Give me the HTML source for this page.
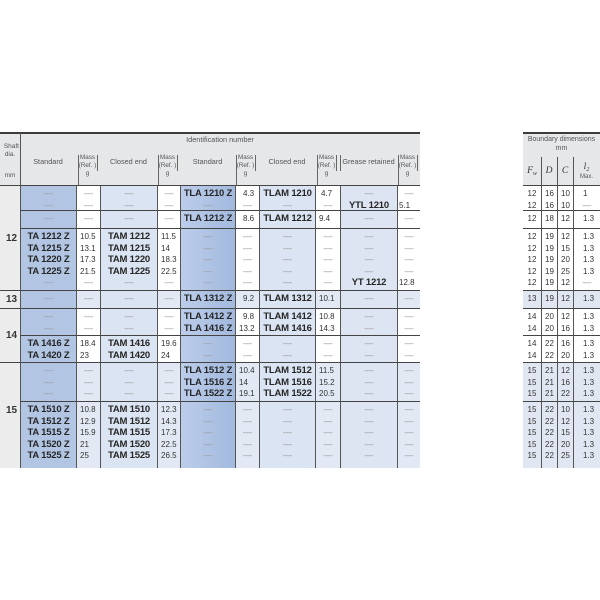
<!DOCTYPE html>
<html><head><meta charset="utf-8">
<style>
*{margin:0;padding:0;box-sizing:border-box}
html,body{width:600px;height:600px;background:#fff;overflow:hidden}
body{position:relative;font-family:"Liberation Sans",Arial,sans-serif;color:#333}
.a{position:absolute}
.bg{background:#e6e7e9}
.ln{background:#3c3c3c}
.vl{background:#666;width:1px}
.ht{position:absolute;font-size:7.3px;color:#555;white-space:nowrap;line-height:8px;text-align:center}
.mh{font-size:6.3px;line-height:7.8px;color:#555}
.grid{position:absolute;display:grid}
#mb{left:0;top:185px;width:420px;grid-template-columns:20px 56px 24px 57px 23px 55px 24px 56px 25px 57px 23px;grid-template-rows:25px 18px 62px 18px 27px 27px 39px 67px}
#bb{left:523px;top:185px;width:77px;grid-template-columns:18px 16px 16px 27px;grid-template-rows:25px 18px 62px 18px 27px 27px 39px 67px}
.grid>div{border-top:1.5px solid #444;border-left:1px solid #555;padding-top:2px;overflow:hidden;white-space:nowrap}
.grid b,.grid i,.grid u{display:block;height:11.6px;line-height:11.6px;font-style:normal;text-decoration:none}
.grid b{font-weight:bold;font-size:9.5px;letter-spacing:-0.2px;text-align:center;color:#262626}
.grid i{font-size:9px;color:#9a9a9a;text-align:center}
.grid u{font-size:8px;padding-left:3px;color:#333}
.grid u.p{padding-left:7px}
.grid u.q{padding-left:5px}
.grid u.r{padding-left:1px}
.sh{background:#ececec;border-left:none!important;display:flex;align-items:center;padding:0 0 0 6px!important;font-weight:bold;font-size:10px;color:#333}
.s1{background:#b2c6e4}
.s2{background:linear-gradient(90deg,#bccdea,#a2b9de)}
.ce{background:#dbe4f2}
.gr{background:#dde5f2}
.m{background:#fff}
.mz{background:#e3e9f4}
#bb>div{text-align:center}
#bb>div:first-child,#bb .f{border-left:none}
#bb u{padding-left:0;text-align:center}
#bb .l u{text-align:left;padding-left:9px}
.w{background:#fff}
.z{background:#e1e7f2}
.sv{font-family:"Liberation Serif",serif;font-style:italic;font-size:9.5px;color:#333}
.sv sub{font-size:6px;vertical-align:-2px}
</style></head><body>

<!-- main header -->
<div class="a bg" style="left:0;top:133px;width:420px;height:52px"></div>
<div class="a ln" style="left:0;top:132px;width:420px;height:2px"></div>
<div class="a vl" style="left:20px;top:133px;height:52px;background:#555"></div>
<div class="ht" style="left:20px;width:400px;top:136px">Identification number</div>
<div class="ht" style="left:0;width:19px;top:143px;text-align:right;font-size:6.5px">Shaft</div>
<div class="ht" style="left:0;width:20px;top:151px;font-size:6.5px">dia.</div>
<div class="ht" style="left:0;width:20px;top:172px;font-size:6.5px">mm</div>

<div class="ht" style="left:20px;width:56px;top:158px">Standard</div>
<div class="ht" style="left:100px;width:57px;top:158px">Closed end</div>
<div class="ht" style="left:180px;width:55px;top:158px">Standard</div>
<div class="ht" style="left:259px;width:56px;top:158px">Closed end</div>
<div class="ht" style="left:340px;width:57px;top:158px">Grease retained</div>

<div class="ht mh" style="left:78px;width:19px;top:154px">Mass<br>(Ref. )<br>g</div>
<div class="ht mh" style="left:158px;width:19px;top:154px">Mass<br>(Ref. )<br>g</div>
<div class="ht mh" style="left:236px;width:19px;top:154px">Mass<br>(Ref. )<br>g</div>
<div class="ht mh" style="left:317px;width:19px;top:154px">Mass<br>(Ref. )<br>g</div>
<div class="ht mh" style="left:398px;width:19px;top:154px">Mass<br>(Ref. )<br>g</div>

<div class="a vl" style="left:78px;top:155px;height:30px"></div>
<div class="a vl" style="left:97px;top:155px;height:16px"></div>
<div class="a vl" style="left:158px;top:155px;height:30px"></div>
<div class="a vl" style="left:177px;top:155px;height:16px"></div>
<div class="a vl" style="left:236px;top:155px;height:30px"></div>
<div class="a vl" style="left:255px;top:155px;height:16px"></div>
<div class="a vl" style="left:317px;top:155px;height:30px"></div>
<div class="a vl" style="left:336px;top:155px;height:16px"></div>
<div class="a vl" style="left:340px;top:155px;height:16px"></div>
<div class="a vl" style="left:398px;top:155px;height:30px"></div>
<div class="a vl" style="left:417px;top:155px;height:16px"></div>

<!-- main body -->
<div class="grid" id="mb">
<div class="sh" style="grid-column:1;grid-row:1/4">12</div>
<div class="sh" style="grid-column:1;grid-row:4/5">13</div>
<div class="sh" style="grid-column:1;grid-row:5/7">14</div>
<div class="sh" style="grid-column:1;grid-row:7/9;padding-bottom:10px!important">15</div>

<!-- g1 -->
<div class="s1"><i>—</i><i>—</i></div>
<div class="m"><i>—</i><i>—</i></div>
<div class="ce"><i>—</i><i>—</i></div>
<div class="m"><i>—</i><i>—</i></div>
<div class="s2"><b>TLA 1210 Z</b><i>—</i></div>
<div class="m"><u class="p">4.3</u><i>—</i></div>
<div class="ce"><b>TLAM 1210</b><i>—</i></div>
<div class="m"><u class="q">4.7</u><i>—</i></div>
<div class="gr"><i>—</i><b>YTL 1210</b></div>
<div class="m"><i>—</i><u class="r">5.1</u></div>
<!-- g2 -->
<div class="s1"><i>—</i></div>
<div class="m"><i>—</i></div>
<div class="ce"><i>—</i></div>
<div class="m"><i>—</i></div>
<div class="s2"><b>TLA 1212 Z</b></div>
<div class="m"><u class="p">8.6</u></div>
<div class="ce"><b>TLAM 1212</b></div>
<div class="m"><u>9.4</u></div>
<div class="gr"><i>—</i></div>
<div class="m"><i>—</i></div>
<!-- g3 -->
<div class="s1"><b>TA 1212 Z</b><b>TA 1215 Z</b><b>TA 1220 Z</b><b>TA 1225 Z</b><i>—</i></div>
<div class="m"><u>10.5</u><u>13.1</u><u>17.3</u><u>21.5</u><i>—</i></div>
<div class="ce"><b>TAM 1212</b><b>TAM 1215</b><b>TAM 1220</b><b>TAM 1225</b><i>—</i></div>
<div class="m"><u>11.5</u><u>14</u><u>18.3</u><u>22.5</u><i>—</i></div>
<div class="s2"><i>—</i><i>—</i><i>—</i><i>—</i><i>—</i></div>
<div class="m"><i>—</i><i>—</i><i>—</i><i>—</i><i>—</i></div>
<div class="ce"><i>—</i><i>—</i><i>—</i><i>—</i><i>—</i></div>
<div class="m"><i>—</i><i>—</i><i>—</i><i>—</i><i>—</i></div>
<div class="gr"><i>—</i><i>—</i><i>—</i><i>—</i><b>YT 1212</b></div>
<div class="m"><i>—</i><i>—</i><i>—</i><i>—</i><u class="r">12.8</u></div>
<!-- g4 -->
<div class="s1"><i>—</i></div>
<div class="mz"><i>—</i></div>
<div class="ce"><i>—</i></div>
<div class="mz"><i>—</i></div>
<div class="s2"><b>TLA 1312 Z</b></div>
<div class="mz"><u class="p">9.2</u></div>
<div class="ce"><b>TLAM 1312</b></div>
<div class="mz"><u>10.1</u></div>
<div class="gr"><i>—</i></div>
<div class="mz"><i>—</i></div>
<!-- g5 -->
<div class="s1"><i>—</i><i>—</i></div>
<div class="m"><i>—</i><i>—</i></div>
<div class="ce"><i>—</i><i>—</i></div>
<div class="m"><i>—</i><i>—</i></div>
<div class="s2"><b>TLA 1412 Z</b><b>TLA 1416 Z</b></div>
<div class="m"><u class="p">9.8</u><u>13.2</u></div>
<div class="ce"><b>TLAM 1412</b><b>TLAM 1416</b></div>
<div class="m"><u>10.8</u><u>14.3</u></div>
<div class="gr"><i>—</i><i>—</i></div>
<div class="m"><i>—</i><i>—</i></div>
<!-- g6 -->
<div class="s1"><b>TA 1416 Z</b><b>TA 1420 Z</b></div>
<div class="m"><u>18.4</u><u>23</u></div>
<div class="ce"><b>TAM 1416</b><b>TAM 1420</b></div>
<div class="m"><u>19.6</u><u>24</u></div>
<div class="s2"><i>—</i><i>—</i></div>
<div class="m"><i>—</i><i>—</i></div>
<div class="ce"><i>—</i><i>—</i></div>
<div class="m"><i>—</i><i>—</i></div>
<div class="gr"><i>—</i><i>—</i></div>
<div class="m"><i>—</i><i>—</i></div>
<!-- g7 -->
<div class="s1"><i>—</i><i>—</i><i>—</i></div>
<div class="mz"><i>—</i><i>—</i><i>—</i></div>
<div class="ce"><i>—</i><i>—</i><i>—</i></div>
<div class="mz"><i>—</i><i>—</i><i>—</i></div>
<div class="s2"><b>TLA 1512 Z</b><b>TLA 1516 Z</b><b>TLA 1522 Z</b></div>
<div class="mz"><u>10.4</u><u>14</u><u>19.1</u></div>
<div class="ce"><b>TLAM 1512</b><b>TLAM 1516</b><b>TLAM 1522</b></div>
<div class="mz"><u>11.5</u><u>15.2</u><u>20.5</u></div>
<div class="gr"><i>—</i><i>—</i><i>—</i></div>
<div class="mz"><i>—</i><i>—</i><i>—</i></div>
<!-- g8 -->
<div class="s1"><b>TA 1510 Z</b><b>TA 1512 Z</b><b>TA 1515 Z</b><b>TA 1520 Z</b><b>TA 1525 Z</b></div>
<div class="mz"><u>10.8</u><u>12.9</u><u>15.9</u><u>21</u><u>25</u></div>
<div class="ce"><b>TAM 1510</b><b>TAM 1512</b><b>TAM 1515</b><b>TAM 1520</b><b>TAM 1525</b></div>
<div class="mz"><u>12.3</u><u>14.3</u><u>17.3</u><u>22.5</u><u>26.5</u></div>
<div class="s2"><i>—</i><i>—</i><i>—</i><i>—</i><i>—</i></div>
<div class="mz"><i>—</i><i>—</i><i>—</i><i>—</i><i>—</i></div>
<div class="ce"><i>—</i><i>—</i><i>—</i><i>—</i><i>—</i></div>
<div class="mz"><i>—</i><i>—</i><i>—</i><i>—</i><i>—</i></div>
<div class="gr"><i>—</i><i>—</i><i>—</i><i>—</i><i>—</i></div>
<div class="mz"><i>—</i><i>—</i><i>—</i><i>—</i><i>—</i></div>
</div>

<!-- boundary header -->
<div class="a bg" style="left:523px;top:133px;width:77px;height:52px"></div>
<div class="a ln" style="left:523px;top:132px;width:77px;height:2px"></div>
<div class="ht" style="left:523px;width:77px;top:136px;font-size:7px">Boundary dimensions</div>
<div class="ht" style="left:523px;width:77px;top:145px;font-size:7px">mm</div>
<div class="a vl" style="left:541px;top:157px;height:28px;background:#555"></div>
<div class="a vl" style="left:557px;top:157px;height:28px;background:#555"></div>
<div class="a vl" style="left:573px;top:157px;height:28px;background:#555"></div>
<div class="a sv" style="left:523px;width:18px;top:166px;text-align:center">F<sub>w</sub></div>
<div class="a sv" style="left:541px;width:16px;top:166px;text-align:center">D</div>
<div class="a sv" style="left:557px;width:16px;top:166px;text-align:center">C</div>
<div class="a sv" style="left:573px;width:27px;top:162px;text-align:center">l<sub>2</sub></div>
<div class="ht" style="left:573px;width:27px;top:173px;font-size:6px">Max.</div>

<!-- boundary body -->
<div class="grid" id="bb">
<div class="w f"><u>12</u><u>12</u></div><div class="w"><u>16</u><u>16</u></div><div class="w"><u>10</u><u>10</u></div><div class="w l"><u>1</u><i>—</i></div>
<div class="w f"><u>12</u></div><div class="w"><u>18</u></div><div class="w"><u>12</u></div><div class="w l"><u>1.3</u></div>
<div class="w f"><u>12</u><u>12</u><u>12</u><u>12</u><u>12</u></div><div class="w"><u>19</u><u>19</u><u>19</u><u>19</u><u>19</u></div><div class="w"><u>12</u><u>15</u><u>20</u><u>25</u><u>12</u></div><div class="w l"><u>1.3</u><u>1.3</u><u>1.3</u><u>1.3</u><i>—</i></div>
<div class="z f"><u>13</u></div><div class="z"><u>19</u></div><div class="z"><u>12</u></div><div class="z l"><u>1.3</u></div>
<div class="w f"><u>14</u><u>14</u></div><div class="w"><u>20</u><u>20</u></div><div class="w"><u>12</u><u>16</u></div><div class="w l"><u>1.3</u><u>1.3</u></div>
<div class="w f"><u>14</u><u>14</u></div><div class="w"><u>22</u><u>22</u></div><div class="w"><u>16</u><u>20</u></div><div class="w l"><u>1.3</u><u>1.3</u></div>
<div class="z f"><u>15</u><u>15</u><u>15</u></div><div class="z"><u>21</u><u>21</u><u>21</u></div><div class="z"><u>12</u><u>16</u><u>22</u></div><div class="z l"><u>1.3</u><u>1.3</u><u>1.3</u></div>
<div class="z f"><u>15</u><u>15</u><u>15</u><u>15</u><u>15</u></div><div class="z"><u>22</u><u>22</u><u>22</u><u>22</u><u>22</u></div><div class="z"><u>10</u><u>12</u><u>15</u><u>20</u><u>25</u></div><div class="z l"><u>1.3</u><u>1.3</u><u>1.3</u><u>1.3</u><u>1.3</u></div>
</div>
</body></html>
